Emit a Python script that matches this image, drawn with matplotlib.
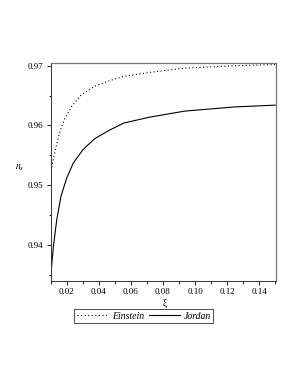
import matplotlib.pyplot as plt
from matplotlib.ticker import MultipleLocator

# -------------------------
# Data
# -------------------------
xi_einstein = [0.0100, 0.0102, 0.0106, 0.0127, 0.0152, 0.0185, 0.0231,
               0.0293, 0.0376, 0.0469, 0.0552, 0.0720, 0.0935, 0.1246,
               0.1500]
ns_einstein = [0.9500, 0.9510, 0.9529, 0.9556, 0.9585, 0.9610, 0.9632,
               0.9652, 0.9666, 0.9675, 0.9682, 0.9689, 0.9696, 0.9700,
               0.9702]

xi_jordan = [0.0100, 0.0102, 0.0117, 0.0138, 0.0164, 0.0200, 0.0241,
             0.0303, 0.0376, 0.0459, 0.0555, 0.0719, 0.0935, 0.1246,
             0.1500]
ns_jordan = [0.9345, 0.9353, 0.9397, 0.9442, 0.9481, 0.9512, 0.9537,
             0.9560, 0.9578, 0.9591, 0.9604, 0.9614, 0.9624, 0.9631,
             0.9634]

xticks = [0.02, 0.04, 0.06, 0.08, 0.10, 0.12, 0.14]
yticks = [0.94, 0.95, 0.96, 0.97]

plt.rcParams["font.family"] = ["Liberation Serif", "DejaVu Serif"]
plt.rcParams["mathtext.fontset"] = "stix"

fig = plt.figure(figsize=(2.98, 3.85), dpi=100)
ax = fig.add_axes([0.170, 0.271, 0.756, 0.566])

ax.plot(xi_einstein, ns_einstein, color="black", linestyle=(0, (1, 2.2)),
        linewidth=0.8, label="Einstein")
ax.plot(xi_jordan, ns_jordan, color="black", linestyle="-",
        linewidth=0.8, label="Jordan")

ax.set_xlim(0.01, 0.1504)
ax.set_ylim(0.934, 0.9705)
ax.set_xticks(xticks)
ax.set_xticklabels([f"{v:.2f}" for v in xticks])
ax.set_yticks(yticks)
ax.set_yticklabels([f"{v:.2f}" for v in yticks])
ax.xaxis.set_minor_locator(MultipleLocator(0.01))
ax.yaxis.set_minor_locator(MultipleLocator(0.005))
ax.tick_params(which="major", direction="out", length=3, width=0.6,
               labelsize=6.5, pad=2, top=False, right=False)
ax.tick_params(which="minor", direction="out", length=1.8, width=0.6,
               top=False, right=False)

for side in ["left", "bottom"]:
    ax.spines[side].set_color("#333333")
    ax.spines[side].set_linewidth(0.7)
for side in ["top", "right"]:
    ax.spines[side].set_color("#777777")
    ax.spines[side].set_linewidth(0.9)

fig.text(0.067, 0.563, r"$n_s$", fontsize=7, ha="center", va="center")
fig.text(0.554, 0.212, "ξ", fontsize=7, ha="center", va="center")

leg = fig.legend(loc="center", bbox_to_anchor=(0.483, 0.179), ncol=2,
                 frameon=True, fancybox=False, edgecolor="black",
                 handlelength=3.2, handletextpad=0.4, columnspacing=0.5,
                 borderpad=0.25,
                 prop={"style": "italic", "size": 7})
leg.get_frame().set_linewidth(0.6)

fig.savefig("out.png", dpi=100)
